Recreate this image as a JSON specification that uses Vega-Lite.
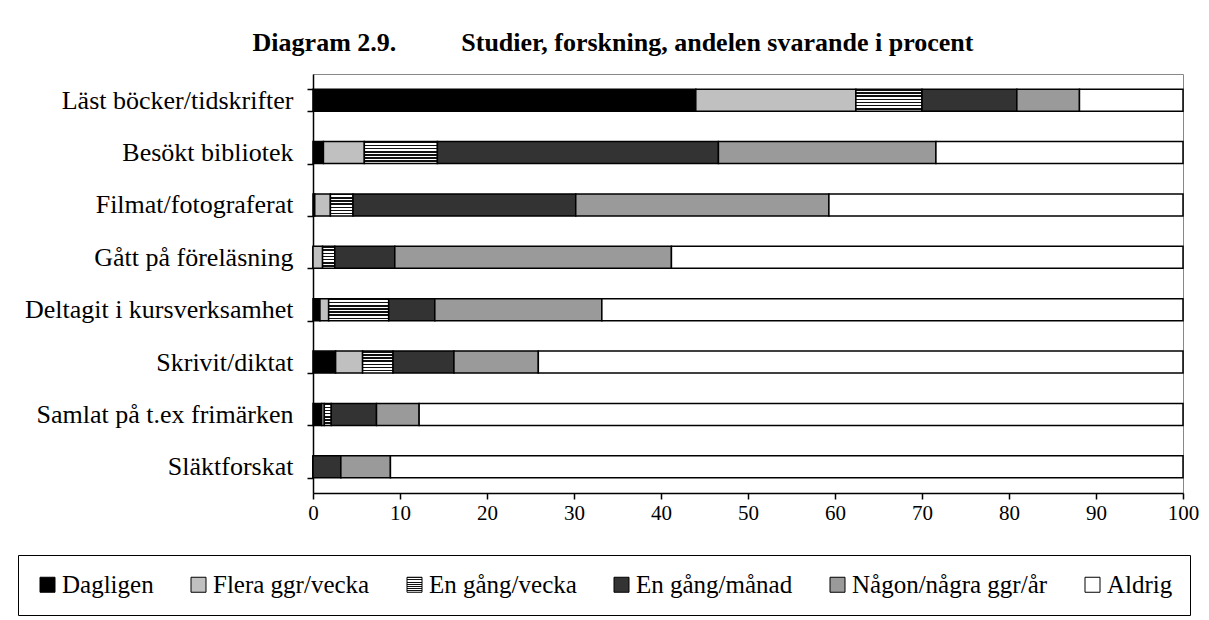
{
  "$schema": "https://vega.github.io/schema/vega-lite/v6.json",
  "width": 870,
  "height": 419,
  "autosize": {"type": "none"},
  "padding": {"left": 313, "top": 74, "right": 26, "bottom": 127},
  "background": "white",
  "title": {
    "text": "Diagram 2.9.\u00a0\u00a0\u00a0\u00a0\u00a0\u00a0\u00a0\u00a0\u00a0\u00a0Studier, forskning, andelen svarande i procent",
    "font": "Liberation Serif",
    "fontSize": 26,
    "fontWeight": "bold",
    "color": "black",
    "anchor": "middle",
    "dx": -135,
    "offset": 5
  },
  "data": {
    "values": [
      {"aktivitet": "Läst böcker/tidskrifter", "frekvens": "Dagligen", "ordning": 1, "andel": 44.0},
      {"aktivitet": "Läst böcker/tidskrifter", "frekvens": "Flera ggr/vecka", "ordning": 2, "andel": 18.4},
      {"aktivitet": "Läst böcker/tidskrifter", "frekvens": "En gång/vecka", "ordning": 3, "andel": 7.6},
      {"aktivitet": "Läst böcker/tidskrifter", "frekvens": "En gång/månad", "ordning": 4, "andel": 10.9},
      {"aktivitet": "Läst böcker/tidskrifter", "frekvens": "Någon/några ggr/år", "ordning": 5, "andel": 7.2},
      {"aktivitet": "Läst böcker/tidskrifter", "frekvens": "Aldrig", "ordning": 6, "andel": 11.9},
      {"aktivitet": "Besökt bibliotek", "frekvens": "Dagligen", "ordning": 1, "andel": 1.2},
      {"aktivitet": "Besökt bibliotek", "frekvens": "Flera ggr/vecka", "ordning": 2, "andel": 4.7},
      {"aktivitet": "Besökt bibliotek", "frekvens": "En gång/vecka", "ordning": 3, "andel": 8.4},
      {"aktivitet": "Besökt bibliotek", "frekvens": "En gång/månad", "ordning": 4, "andel": 32.3},
      {"aktivitet": "Besökt bibliotek", "frekvens": "Någon/några ggr/år", "ordning": 5, "andel": 25.0},
      {"aktivitet": "Besökt bibliotek", "frekvens": "Aldrig", "ordning": 6, "andel": 28.4},
      {"aktivitet": "Filmat/fotograferat", "frekvens": "Dagligen", "ordning": 1, "andel": 0.2},
      {"aktivitet": "Filmat/fotograferat", "frekvens": "Flera ggr/vecka", "ordning": 2, "andel": 1.8},
      {"aktivitet": "Filmat/fotograferat", "frekvens": "En gång/vecka", "ordning": 3, "andel": 2.6},
      {"aktivitet": "Filmat/fotograferat", "frekvens": "En gång/månad", "ordning": 4, "andel": 25.6},
      {"aktivitet": "Filmat/fotograferat", "frekvens": "Någon/några ggr/år", "ordning": 5, "andel": 29.1},
      {"aktivitet": "Filmat/fotograferat", "frekvens": "Aldrig", "ordning": 6, "andel": 40.7},
      {"aktivitet": "Gått på föreläsning", "frekvens": "Dagligen", "ordning": 1, "andel": 0.0},
      {"aktivitet": "Gått på föreläsning", "frekvens": "Flera ggr/vecka", "ordning": 2, "andel": 1.1},
      {"aktivitet": "Gått på föreläsning", "frekvens": "En gång/vecka", "ordning": 3, "andel": 1.4},
      {"aktivitet": "Gått på föreläsning", "frekvens": "En gång/månad", "ordning": 4, "andel": 6.9},
      {"aktivitet": "Gått på föreläsning", "frekvens": "Någon/några ggr/år", "ordning": 5, "andel": 31.8},
      {"aktivitet": "Gått på föreläsning", "frekvens": "Aldrig", "ordning": 6, "andel": 58.8},
      {"aktivitet": "Deltagit i kursverksamhet", "frekvens": "Dagligen", "ordning": 1, "andel": 0.8},
      {"aktivitet": "Deltagit i kursverksamhet", "frekvens": "Flera ggr/vecka", "ordning": 2, "andel": 1.0},
      {"aktivitet": "Deltagit i kursverksamhet", "frekvens": "En gång/vecka", "ordning": 3, "andel": 6.9},
      {"aktivitet": "Deltagit i kursverksamhet", "frekvens": "En gång/månad", "ordning": 4, "andel": 5.3},
      {"aktivitet": "Deltagit i kursverksamhet", "frekvens": "Någon/några ggr/år", "ordning": 5, "andel": 19.2},
      {"aktivitet": "Deltagit i kursverksamhet", "frekvens": "Aldrig", "ordning": 6, "andel": 66.8},
      {"aktivitet": "Skrivit/diktat", "frekvens": "Dagligen", "ordning": 1, "andel": 2.6},
      {"aktivitet": "Skrivit/diktat", "frekvens": "Flera ggr/vecka", "ordning": 2, "andel": 3.1},
      {"aktivitet": "Skrivit/diktat", "frekvens": "En gång/vecka", "ordning": 3, "andel": 3.5},
      {"aktivitet": "Skrivit/diktat", "frekvens": "En gång/månad", "ordning": 4, "andel": 7.0},
      {"aktivitet": "Skrivit/diktat", "frekvens": "Någon/några ggr/år", "ordning": 5, "andel": 9.7},
      {"aktivitet": "Skrivit/diktat", "frekvens": "Aldrig", "ordning": 6, "andel": 74.1},
      {"aktivitet": "Samlat på t.ex frimärken", "frekvens": "Dagligen", "ordning": 1, "andel": 1.0},
      {"aktivitet": "Samlat på t.ex frimärken", "frekvens": "Flera ggr/vecka", "ordning": 2, "andel": 0.3},
      {"aktivitet": "Samlat på t.ex frimärken", "frekvens": "En gång/vecka", "ordning": 3, "andel": 0.8},
      {"aktivitet": "Samlat på t.ex frimärken", "frekvens": "En gång/månad", "ordning": 4, "andel": 5.2},
      {"aktivitet": "Samlat på t.ex frimärken", "frekvens": "Någon/några ggr/år", "ordning": 5, "andel": 4.9},
      {"aktivitet": "Samlat på t.ex frimärken", "frekvens": "Aldrig", "ordning": 6, "andel": 87.8},
      {"aktivitet": "Släktforskat", "frekvens": "Dagligen", "ordning": 1, "andel": 0.0},
      {"aktivitet": "Släktforskat", "frekvens": "Flera ggr/vecka", "ordning": 2, "andel": 0.0},
      {"aktivitet": "Släktforskat", "frekvens": "En gång/vecka", "ordning": 3, "andel": 0.0},
      {"aktivitet": "Släktforskat", "frekvens": "En gång/månad", "ordning": 4, "andel": 3.2},
      {"aktivitet": "Släktforskat", "frekvens": "Någon/några ggr/år", "ordning": 5, "andel": 5.7},
      {"aktivitet": "Släktforskat", "frekvens": "Aldrig", "ordning": 6, "andel": 91.1}
    ]
  },
  "mark": {"type": "bar", "stroke": "black", "strokeWidth": 1.5},
  "encoding": {
    "y": {
      "field": "aktivitet",
      "type": "nominal",
      "sort": ["Läst böcker/tidskrifter", "Besökt bibliotek", "Filmat/fotograferat", "Gått på föreläsning", "Deltagit i kursverksamhet", "Skrivit/diktat", "Samlat på t.ex frimärken", "Släktforskat"],
      "scale": {"paddingInner": 0.58, "paddingOuter": 0.29},
      "axis": {
        "title": null,
        "tickBand": "extent",
        "labelFont": "Liberation Serif",
        "labelFontSize": 26,
        "labelColor": "black",
        "labelPadding": 14,
        "labelLimit": 400,
        "tickSize": 6,
        "tickColor": "black",
        "domainColor": "black",
        "domainWidth": 1.5,
        "tickWidth": 1.5
      }
    },
    "x": {
      "field": "andel",
      "type": "quantitative",
      "stack": "zero",
      "scale": {"domain": [0, 100], "nice": false},
      "axis": {
        "title": null,
        "values": [0, 10, 20, 30, 40, 50, 60, 70, 80, 90, 100],
        "grid": false,
        "labelFont": "Liberation Serif",
        "labelFontSize": 21,
        "labelColor": "black",
        "labelPadding": 3,
        "labelFlush": false,
        "tickSize": 6,
        "tickColor": "black",
        "tickWidth": 1.5,
        "domainColor": "black",
        "domainWidth": 1.5
      }
    },
    "color": {
      "field": "frekvens",
      "type": "nominal",
      "scale": {
        "domain": ["Dagligen", "Flera ggr/vecka", "En gång/vecka", "En gång/månad", "Någon/några ggr/år", "Aldrig"],
        "range": [
          "#000000",
          "#c0c0c0",
          {"expr": "{gradient: 'linear', x1: 0, y1: 0, x2: 0, y2: 1, stops: [{offset: 0, color: '#111'}, {offset: 0.07, color: '#111'}, {offset: 0.07, color: '#fff'}, {offset: 0.1429, color: '#fff'}, {offset: 0.1429, color: '#111'}, {offset: 0.2129, color: '#111'}, {offset: 0.2129, color: '#fff'}, {offset: 0.2857, color: '#fff'}, {offset: 0.2857, color: '#111'}, {offset: 0.3557, color: '#111'}, {offset: 0.3557, color: '#fff'}, {offset: 0.4286, color: '#fff'}, {offset: 0.4286, color: '#111'}, {offset: 0.4986, color: '#111'}, {offset: 0.4986, color: '#fff'}, {offset: 0.5714, color: '#fff'}, {offset: 0.5714, color: '#111'}, {offset: 0.6414, color: '#111'}, {offset: 0.6414, color: '#fff'}, {offset: 0.7143, color: '#fff'}, {offset: 0.7143, color: '#111'}, {offset: 0.7843, color: '#111'}, {offset: 0.7843, color: '#fff'}, {offset: 0.8571, color: '#fff'}, {offset: 0.8571, color: '#111'}, {offset: 0.9271, color: '#111'}, {offset: 0.9271, color: '#fff'}, {offset: 1, color: '#fff'}]}"},
          "#333333",
          "#9a9a9a",
          "#ffffff"
        ]
      },
      "legend": {
        "orient": "none",
        "legendX": -295,
        "legendY": 481,
        "direction": "horizontal",
        "title": null,
        "symbolType": "square",
        "symbolSize": 225,
        "symbolStrokeColor": "black",
        "symbolStrokeWidth": 1,
        "symbolOpacity": 1,
        "labelFont": "Liberation Serif",
        "labelFontSize": 25,
        "labelColor": "black",
        "labelOffset": 2,
        "labelLimit": 400,
        "columnPadding": 32,
        "strokeColor": "black",
        "fillColor": "white",
        "padding": 17
      }
    },
    "order": {"field": "ordning", "type": "quantitative"}
  },
  "config": {
    "font": "Liberation Serif",
    "view": {"stroke": "#888888", "strokeWidth": 1}
  }
}
